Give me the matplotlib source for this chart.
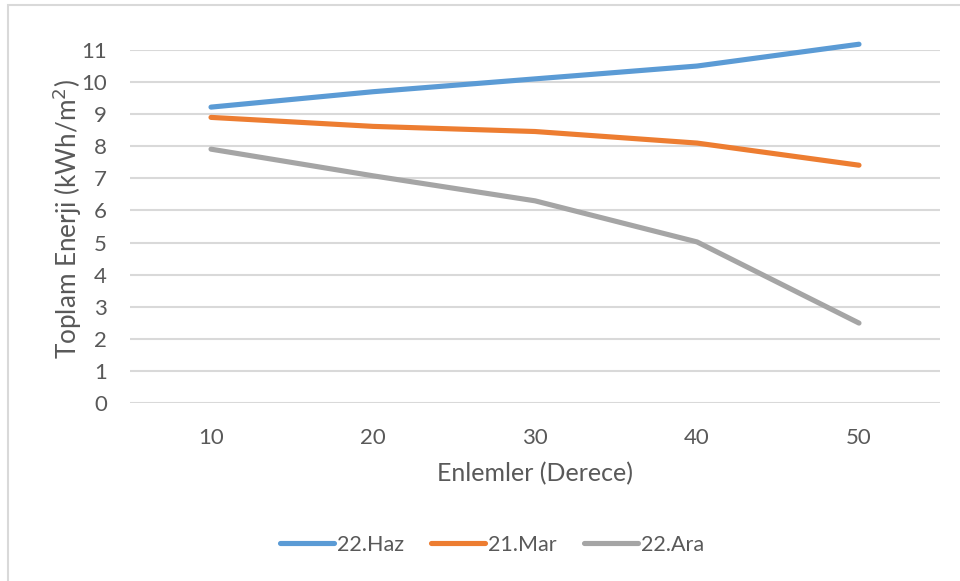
import matplotlib
matplotlib.use("Agg")
import matplotlib.pyplot as plt
from matplotlib.patches import Rectangle

# ── Data ──────────────────────────────────────────────────────
enlem = [10, 20, 30, 40, 50]
haz = [9.22, 9.70, 10.10, 10.50, 11.18]
mar = [8.90, 8.62, 8.46, 8.10, 7.41]
ara = [7.91, 7.08, 6.30, 5.02, 2.49]
series_names = ["22.Haz", "21.Mar", "22.Ara"]
colors = ["#5b9bd5", "#ed7d31", "#a5a5a5"]

plt.rcParams["font.family"] = ["Lato", "DejaVu Sans"]
text_color = "#595959"

# ── Chart ─────────────────────────────────────────────────────
fig = plt.figure(figsize=(9.6, 5.81), dpi=100)
fig.patches.append(Rectangle((8 / 960, -0.01), 1.0, (581 - 5) / 581 + 0.01,
                             transform=fig.transFigure, fill=False,
                             edgecolor="#d9d9d9", linewidth=1.5))

ax = fig.add_axes([130 / 960, (581 - 403) / 581, 810 / 960, 353 / 581])

for vals, name, c in zip([haz, mar, ara], series_names, colors):
    ax.plot(enlem, vals, color=c, linewidth=3.7, label=name,
            solid_capstyle="round", clip_on=False, zorder=3)

ax.set_xlim(5, 55)
ax.set_ylim(0, 11)
ax.set_xticks(enlem)
ax.set_yticks(range(0, 12))
ax.grid(axis="y", color="#d9d9d9", linewidth=1.5)
ax.set_axisbelow(True)
for s in ax.spines.values():
    s.set_visible(False)
ax.tick_params(length=0, labelsize=16, colors=text_color)
ax.tick_params(axis="x", pad=18)
ax.tick_params(axis="y", pad=16.5)

ax.set_xlabel("Enlemler (Derece)", fontsize=18, color=text_color, labelpad=10)
ax.set_ylabel("Toplam Enerji (kWh/m$^2$)", fontsize=18.8, color=text_color)
ax.yaxis.set_label_coords(-0.057, 0.52)

ax.legend(loc="center", bbox_to_anchor=(492 / 960, (581 - 545) / 581),
          bbox_transform=fig.transFigure, ncol=3, frameon=False,
          fontsize=15.5, labelcolor=text_color, handlelength=2.5,
          handletextpad=0.15, columnspacing=1.25)

plt.savefig("out.png", dpi=100)
